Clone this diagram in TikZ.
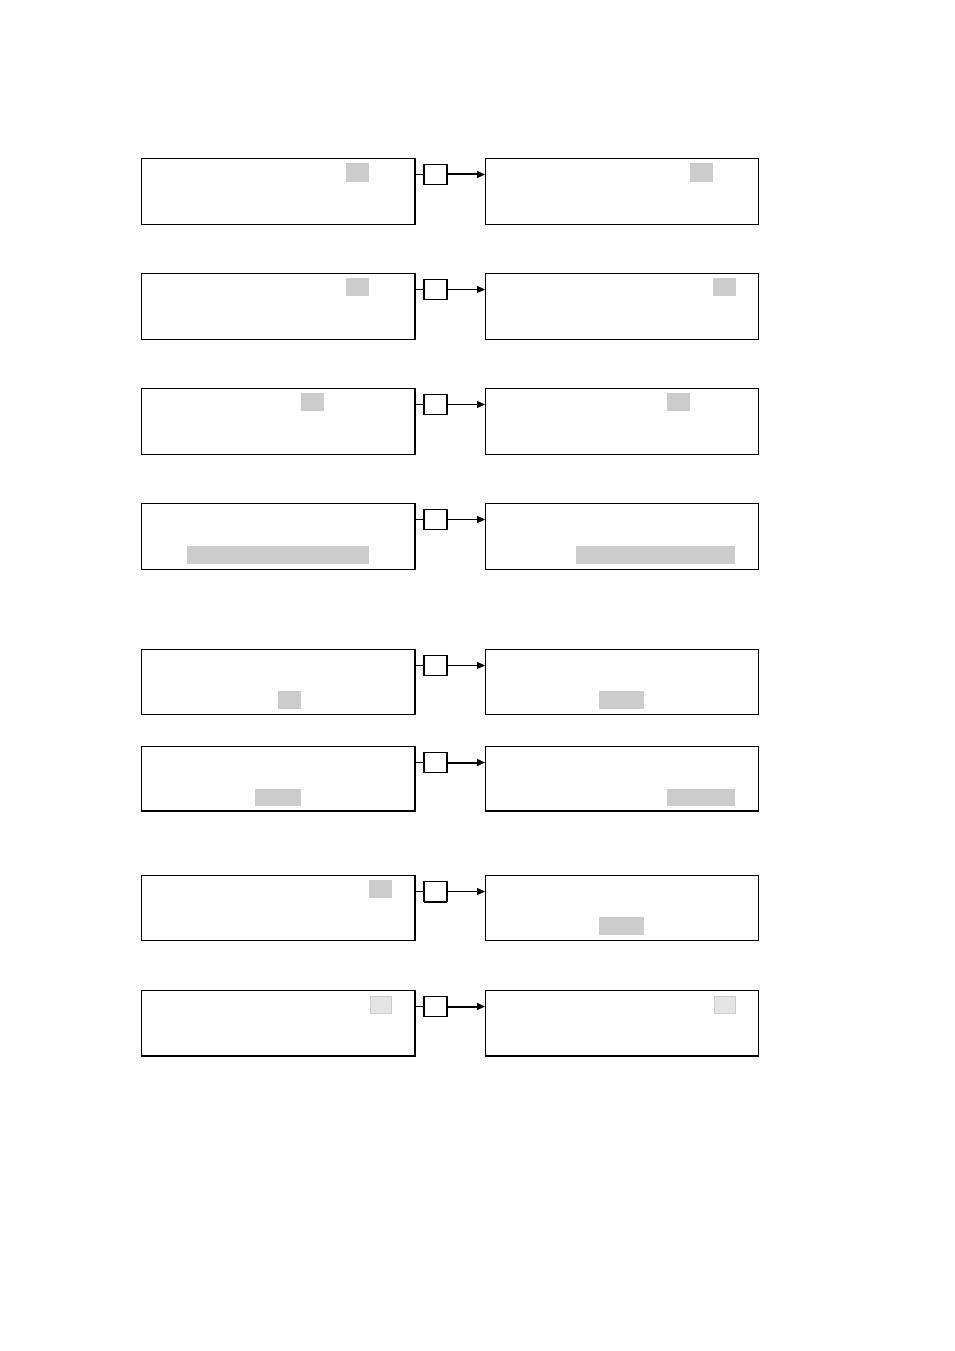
\documentclass[tikz,border=0pt]{standalone}
\usetikzlibrary{arrows.meta}
\begin{document}
\begin{tikzpicture}[x=1pt,y=-1pt,
  panel/.style={draw, line width=0.9pt, inner sep=0pt, outer sep=0pt, minimum width=274pt, minimum height=66pt, anchor=north west},
  sq/.style={draw, line width=1.1pt, inner sep=0pt, outer sep=0pt, minimum width=23pt, minimum height=20pt, anchor=north west, yshift=-1.5pt},
  hl/.style={fill=black!20},
  hlb/.style={fill=black!10, draw=black!20, line width=1pt},
  thinl/.style={line width=0.8pt},
  arr/.style={line width=0.9pt, -{Triangle[length=8pt,width=7pt]}},
  arrb/.style={line width=2pt, -{Triangle[length=8pt,width=7pt]}},
  edge/.style={line width=2pt}]
\useasboundingbox (0,0) rectangle (954,1351);
% Row 1
\node[panel] (L1) at (141,158) {};
\node[panel, minimum width=273pt] (R1) at (485,158) {};
\node[sq] (S1) at (424,163) {};
\draw[edge] (L1.north east) -- (L1.south east);
\fill[hl] (346,163) rectangle (369,182);
\fill[hl] (690,163) rectangle (713,182);
\draw[thinl] (S1.west -| L1.east) -- (S1.west);
\draw[arrb] (S1.east) -- (S1.east -| R1.west);
% Row 2
\node[panel] (L2) at (141,273) {};
\node[panel, minimum width=273pt] (R2) at (485,273) {};
\node[sq] (S2) at (424,278) {};
\draw[edge] (L2.north east) -- (L2.south east);
\fill[hl] (346,278) rectangle (369,296);
\fill[hl] (713,278) rectangle (736,296);
\draw[thinl] (S2.west -| L2.east) -- (S2.west);
\draw[arr] (S2.east) -- (S2.east -| R2.west);
% Row 3
\node[panel] (L3) at (141,388) {};
\node[panel, minimum width=273pt] (R3) at (485,388) {};
\node[sq] (S3) at (424,393) {};
\draw[edge] (L3.north east) -- (L3.south east);
\fill[hl] (301,393) rectangle (324,411);
\fill[hl] (667,393) rectangle (690,411);
\draw[thinl] (S3.west -| L3.east) -- (S3.west);
\draw[arr] (S3.east) -- (S3.east -| R3.west);
% Row 4
\node[panel] (L4) at (141,503) {};
\node[panel, minimum width=273pt] (R4) at (485,503) {};
\node[sq] (S4) at (424,508) {};
\draw[edge] (L4.north east) -- (L4.south east);
\fill[hl] (187,546) rectangle (369,564);
\fill[hl] (576,546) rectangle (735,564);
\draw[thinl] (S4.west -| L4.east) -- (S4.west);
\draw[arr] (S4.east) -- (S4.east -| R4.west);
% Row 5
\node[panel, minimum height=65pt] (L5) at (141,649) {};
\node[panel, minimum width=273pt, minimum height=65pt] (R5) at (485,649) {};
\node[sq] (S5) at (424,654) {};
\draw[edge] (L5.north east) -- (L5.south east);
\fill[hl] (278,691) rectangle (301,709);
\fill[hl] (599,691) rectangle (644,709);
\draw[thinl] (S5.west -| L5.east) -- (S5.west);
\draw[arr] (S5.east) -- (S5.east -| R5.west);
% Row 6
\node[panel, minimum height=65pt] (L6) at (141,746) {};
\node[panel, minimum width=273pt, minimum height=65pt] (R6) at (485,746) {};
\node[sq] (S6) at (424,751) {};
\draw[edge] (L6.north east) -- (L6.south east);
\draw[edge] (L6.south west) -- (L6.south east);
\draw[edge] (R6.south west) -- (R6.south east);
\fill[hl] (255,789) rectangle (301,806);
\fill[hl] (667,789) rectangle (735,806);
\draw[thinl] (S6.west -| L6.east) -- (S6.west);
\draw[arrb] (S6.east) -- (S6.east -| R6.west);
% Row 7
\node[panel, minimum height=65pt] (L7) at (141,875) {};
\node[panel, minimum width=273pt, minimum height=65pt] (R7) at (485,875) {};
\node[sq] (S7) at (424,880) {};
\draw[edge] (L7.north east) -- (L7.south east);
\draw[edge] (S7.south west) -- (S7.south east);
\fill[hl] (369,880) rectangle (392,898);
\fill[hl] (599,917) rectangle (644,935);
\draw[thinl] (S7.west -| L7.east) -- (S7.west);
\draw[arr] (S7.east) -- (S7.east -| R7.west);
% Row 8
\node[panel] (L8) at (141,990) {};
\node[panel, minimum width=273pt] (R8) at (485,990) {};
\node[sq] (S8) at (424,995) {};
\draw[edge] (L8.north east) -- (L8.south east);
\draw[edge] (L8.south west) -- (L8.south east);
\draw[edge] (R8.south west) -- (R8.south east);
\filldraw[hlb] (370,996) rectangle (391,1013);
\filldraw[hlb] (714,996) rectangle (735,1013);
\draw[thinl] (S8.west -| L8.east) -- (S8.west);
\draw[arrb] (S8.east) -- (S8.east -| R8.west);
\end{tikzpicture}
\end{document}
